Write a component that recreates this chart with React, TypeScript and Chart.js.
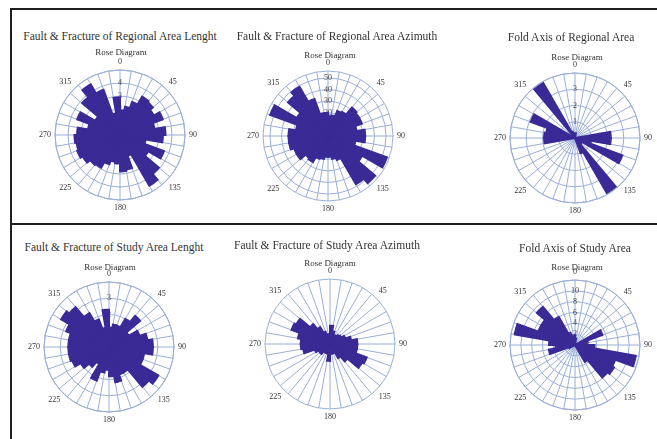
import React, { useEffect, useRef } from "react";
import { Chart, registerables } from "chart.js";

Chart.register(...registerables);

// ---------- data ----------
const BIN_LABELS = [
  "0-10", "10-20", "20-30", "30-40", "40-50", "50-60", "60-70", "70-80", "80-90",
  "90-100", "100-110", "110-120", "120-130", "130-140", "140-150", "150-160", "160-170", "170-180",
  "180-190", "190-200", "200-210", "210-220", "220-230", "230-240", "240-250", "250-260", "260-270",
  "270-280", "280-290", "290-300", "300-310", "310-320", "320-330", "330-340", "340-350", "350-360",
];

const ANGLE_TICKS = ["0", "45", "90", "135", "180", "225", "270", "315"];

const REGIONAL_LENGTH = [
  1.9, 2.2, 2.7, 3.4, 3.3, 3.0, 3.5, 2.7, 3.5, 3.3, 2.0, 3.6, 2.5, 3.9, 4.5, 1.7, 2.7, 2.8,
  2.2, 2.1, 2.4, 2.9, 3.0, 3.3, 3.5, 3.4, 3.5, 3.3, 2.5, 3.5, 2.2, 3.8, 4.5, 3.7, 1.7, 2.9,
];
const REGIONAL_AZIMUTH = [
  17, 18, 23, 24, 32, 31, 31, 25, 32, 32, 24, 54, 34, 53, 48, 22, 20, 18,
  18, 20, 21, 26, 25, 31, 31, 34, 34, 34, 28, 53, 31, 45, 49, 34, 20, 20,
];
const REGIONAL_FOLD = [
  0.3, 0, 0, 0, 0, 0, 0, 0, 2.2, 2.2, 1.0, 3.1, 0.5, 0, 3.9, 1.0, 0, 0,
  0, 0, 0, 0, 0, 0, 0, 0, 1.9, 1.9, 1.8, 2.9, 0, 0, 3.9, 0.4, 0, 0,
];
const STUDY_LENGTH = [
  1.2, 1.4, 1.4, 2.0, 2.5, 1.4, 2.0, 2.4, 2.7, 2.7, 2.2, 2.2, 3.5, 3.2, 1.8, 1.8, 2.2, 1.8,
  1.4, 1.6, 2.2, 1.2, 1.6, 2.0, 2.4, 2.5, 2.5, 2.5, 2.5, 2.8, 3.4, 3.2, 2.4, 1.8, 1.2, 2.3,
];
const STUDY_AZIMUTH = [
  2.8, 2.0, 1.5, 1.5, 1.8, 2.0, 2.5, 3.3, 4.2, 4.2, 4.2, 6.0, 5.7, 3.5, 2.5, 1.5, 1.5, 1.5,
  2.6, 1.5, 1.5, 1.5, 2.0, 2.0, 2.5, 4.2, 4.5, 4.5, 5.0, 6.3, 6.0, 4.0, 3.0, 2.0, 1.5, 1.5,
];
const STUDY_FOLD = [
  1.2, 0, 0, 0, 0, 0, 5.4, 2.4, 1.2, 3.6, 11.4, 7.9, 8.3, 7.8, 3.6, 0, 0, 0,
  0, 0, 0, 0, 0, 0, 1.2, 4.9, 3.6, 4.8, 11.3, 7.2, 7.2, 9.2, 6.0, 2.4, 1.2, 1.8,
];

const TITLES = [
  "Fault & Fracture of Regional Area Lenght",
  "Fault & Fracture of Regional Area Azimuth",
  "Fold Axis of Regional Area",
  "Fault & Fracture of Study Area Lenght",
  "Fault & Fracture of Study Area Azimuth",
  "Fold Axis of Study Area",
];
const SUBTITLE = "Rose Diagram";

const RADIAL_MAX = [5, 56, 4, 4, 10, 12];
const RADIAL_STEP = [1, 10, 1, 1, 1, 2];

// ---------- styles / layout ----------
const BAR = "#3a2a96";
const GRID = "#9aaed8";
const SERIF = '"Liberation Serif", "DejaVu Serif", serif';
const SIZE = 170;
const RADIUS = 65;

const LAYOUT = [
  { cx: 120, cy: 135, tx: 120, ty: 37, sx: 121, sy: 52, ticks: true, rings: true },
  { cx: 328, cy: 136, tx: 337, ty: 37, sx: 330, sy: 55, ticks: true, rings: true },
  { cx: 575, cy: 138, tx: 571, ty: 38, sx: 577, sy: 57, ticks: true, rings: true },
  { cx: 109, cy: 347, tx: 114, ty: 248, sx: 110, sy: 267, ticks: true, rings: true },
  { cx: 330, cy: 344, tx: 327, ty: 246, sx: 330, sy: 263, ticks: false, rings: false },
  { cx: 575, cy: 345, tx: 575, ty: 249, sx: 577, sy: 267, ticks: true, rings: true },
];

const roseDecor = {
  id: "roseDecor",
  beforeDatasetsDraw(chart: any) {
    const s = chart.scales.r;
    const ctx = chart.ctx;
    ctx.save();
    ctx.strokeStyle = GRID;
    ctx.lineWidth = 1;
    ctx.beginPath();
    ctx.arc(s.xCenter, s.yCenter, s.drawingArea, 0, Math.PI * 2);
    ctx.stroke();
    ctx.restore();
  },
  afterDraw(chart: any) {
    const s = chart.scales.r;
    const ctx = chart.ctx;
    ctx.save();
    ctx.font = `8px ${SERIF}`;
    ctx.fillStyle = "#333";
    ANGLE_TICKS.forEach((t) => {
      const a = (Number(t) * Math.PI) / 180;
      const dx = Math.sin(a);
      const dy = -Math.cos(a);
      const r = s.drawingArea + 4;
      ctx.textAlign = dx > 0.1 ? "left" : dx < -0.1 ? "right" : "center";
      ctx.textBaseline = dy < -0.1 ? "bottom" : dy > 0.1 ? "top" : "middle";
      ctx.fillText(t, s.xCenter + dx * r, s.yCenter + dy * r);
    });
    ctx.restore();
  },
};

function Rose({ data, max, step, showTicks, showRings }: any) {
  const ref = useRef<HTMLCanvasElement>(null);
  useEffect(() => {
    if (!ref.current) return;
    const tickPad = 8;
    const pad = (SIZE - 2 * RADIUS - tickPad) / 2;
    const chart = new Chart(ref.current, {
      type: "polarArea",
      data: {
        labels: BIN_LABELS,
        datasets: [
          {
            data,
            backgroundColor: BAR,
            borderColor: BAR,
            borderWidth: 2,
            borderJoinStyle: "miter",
          },
        ],
      },
      options: {
        responsive: false,
        animation: false,
        layout: { padding: pad },
        plugins: { legend: { display: false }, tooltip: { enabled: false } },
        scales: {
          r: {
            min: 0,
            max,
            startAngle: 0,
            angleLines: { display: true, color: GRID, lineWidth: 1 },
            grid: { display: showRings, color: GRID, lineWidth: 1, circular: true, z: -2 },
            pointLabels: { display: false },
            ticks: {
              display: true,
              z: -1,
              stepSize: step,
              includeBounds: false,
              showLabelBackdrop: false,
              backdropPadding: 0,
              color: "#444",
              font: { size: 8, family: SERIF },
              callback: (v: any) => (!showTicks || v >= max ? "" : String(v)),
            },
          },
        },
      } as any,
      plugins: [roseDecor],
    });
    return () => chart.destroy();
  }, []);
  return <canvas ref={ref} width={SIZE} height={SIZE} />;
}

const SERIES = [REGIONAL_LENGTH, REGIONAL_AZIMUTH, REGIONAL_FOLD, STUDY_LENGTH, STUDY_AZIMUTH, STUDY_FOLD];

export default function App() {
  const textStyle = (x: number, y: number, size: number): React.CSSProperties => ({
    position: "absolute",
    left: x,
    top: y,
    transform: "translate(-50%, -50%)",
    whiteSpace: "nowrap",
    fontFamily: SERIF,
    fontSize: size,
    lineHeight: 1,
    color: "#333",
  });
  return (
    <div style={{ position: "absolute", left: 0, top: 0, width: 657, height: 439, background: "#fff", overflow: "hidden" }}>
      <div style={{ position: "absolute", left: 10, top: 8, width: 647, height: 2, background: "#1e1e1e" }} />
      <div style={{ position: "absolute", left: 10, top: 8, width: 2, height: 431, background: "#1e1e1e" }} />
      <div style={{ position: "absolute", left: 10, top: 223, width: 647, height: 2, background: "#1e1e1e" }} />
      {LAYOUT.map((l, i) => (
        <React.Fragment key={i}>
          <div style={{ position: "absolute", left: l.cx - SIZE / 2, top: l.cy - SIZE / 2, width: SIZE, height: SIZE }}>
            <Rose data={SERIES[i]} max={RADIAL_MAX[i]} step={RADIAL_STEP[i]} showTicks={l.ticks} showRings={l.rings} />
          </div>
          <div style={textStyle(l.tx, l.ty, 11.5)}>{TITLES[i]}</div>
          <div style={textStyle(l.sx, l.sy, 9)}>{SUBTITLE}</div>
        </React.Fragment>
      ))}
    </div>
  );
}
